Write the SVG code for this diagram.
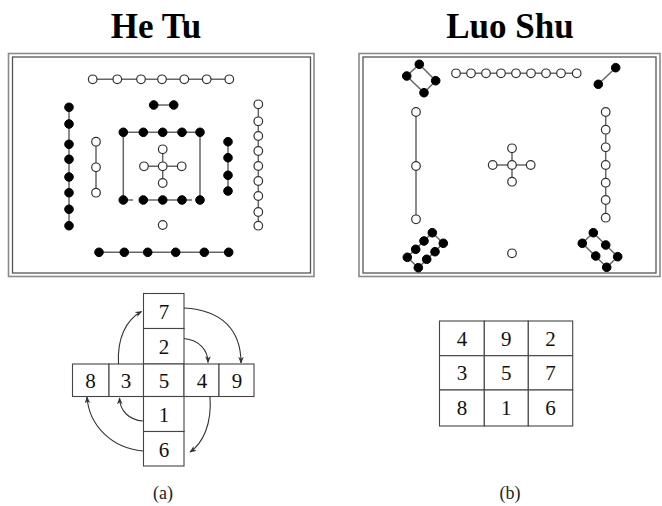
<svg xmlns="http://www.w3.org/2000/svg" width="662" height="506" viewBox="0 0 662 506">
<defs>
<style>
.title{font-family:"Liberation Serif","Times New Roman",serif;font-weight:bold;font-size:35px;text-anchor:middle;fill:#000}
.num{font-family:"Liberation Serif","Times New Roman",serif;font-size:21px;text-anchor:middle;fill:#111}
.cap{font-family:"Liberation Serif","Times New Roman",serif;font-size:18px;text-anchor:middle;fill:#222}
.fo{fill:none;stroke:#8a8a8a;stroke-width:1.6}
.fi{fill:none;stroke:#555;stroke-width:1.3}
.ln{stroke:#666;stroke-width:1.5;fill:none}
.b{fill:#000;stroke:#000;stroke-width:1}
.w{fill:#fff;stroke:#333;stroke-width:1.2}
.cell{fill:#fff;stroke:#444;stroke-width:1.1}
.arr{fill:none;stroke:#333;stroke-width:1.1;marker-end:url(#ah)}
</style>
<marker id="ah" viewBox="0 0 10 10" refX="9" refY="5" markerWidth="7" markerHeight="7" orient="auto" markerUnits="userSpaceOnUse">
<path d="M0,1 L10,5 L0,9 L3,5 Z" fill="#333"/>
</marker>
</defs>
<rect width="662" height="506" fill="#fff"/>
<text class="title" x="156" y="38">He Tu</text>
<text class="title" x="510" y="38">Luo Shu</text>

<g id="hetu-frame">
<rect class="fo" x="8.5" y="53.5" width="305.5" height="223"/>
<rect class="fi" x="12.5" y="57" width="298" height="216"/>
</g>
<g id="luoshu-frame">
<rect class="fo" x="359" y="53.5" width="301" height="223"/>
<rect class="fi" x="363" y="57" width="293" height="216"/>
</g>

<g id="hetu-top-7">
<line class="ln" x1="92.7" y1="79.3" x2="229.3" y2="79.3"/>
<circle class="w" cx="92.7" cy="79.3" r="4.3"/><circle class="w" cx="117.3" cy="79.3" r="4.3"/><circle class="w" cx="141" cy="79.3" r="4.3"/><circle class="w" cx="162" cy="79.3" r="4.3"/><circle class="w" cx="184.3" cy="79.3" r="4.3"/><circle class="w" cx="206.7" cy="79.3" r="4.3"/><circle class="w" cx="229.3" cy="79.3" r="4.3"/>
</g>
<g id="hetu-top-2">
<line class="ln" x1="153.7" y1="105" x2="173.7" y2="105"/>
<circle class="b" cx="153.7" cy="105" r="4.3"/><circle class="b" cx="173.7" cy="105" r="4.3"/>
</g>
<g id="hetu-left-8">
<line class="ln" x1="69" y1="107.3" x2="69" y2="225.7"/>
<circle class="b" cx="69" cy="107.3" r="4.3"/><circle class="b" cx="69" cy="124" r="4.3"/><circle class="b" cx="69" cy="144.3" r="4.3"/><circle class="b" cx="69" cy="159.3" r="4.3"/><circle class="b" cx="69" cy="177" r="4.3"/><circle class="b" cx="69" cy="192.7" r="4.3"/><circle class="b" cx="69" cy="209.3" r="4.3"/><circle class="b" cx="69" cy="225.7" r="4.3"/>
</g>
<g id="hetu-left-3">
<line class="ln" x1="96" y1="141.7" x2="96" y2="192.7"/>
<circle class="w" cx="96" cy="141.7" r="4.3"/><circle class="w" cx="96" cy="167.3" r="4.3"/><circle class="w" cx="96" cy="192.7" r="4.3"/>
</g>
<g id="hetu-center-10">
<line class="ln" x1="123.3" y1="132.3" x2="200" y2="132.3"/>
<line class="ln" x1="123.3" y1="132.3" x2="123.3" y2="200"/>
<line class="ln" x1="200" y1="132.3" x2="200" y2="200"/>
<line class="ln" x1="127" y1="200" x2="133" y2="200"/>
<line class="ln" x1="147" y1="200" x2="178" y2="200"/>
<line class="ln" x1="186" y1="200" x2="192" y2="200"/>
<circle class="b" cx="123.3" cy="132.3" r="4.3"/><circle class="b" cx="143.3" cy="132.3" r="4.3"/><circle class="b" cx="162.7" cy="132.3" r="4.3"/><circle class="b" cx="182" cy="132.3" r="4.3"/><circle class="b" cx="200" cy="132.3" r="4.3"/>
<circle class="b" cx="123.3" cy="200" r="4.3"/><circle class="b" cx="143.3" cy="200" r="4.3"/><circle class="b" cx="162.7" cy="200" r="4.3"/><circle class="b" cx="182" cy="200" r="4.3"/><circle class="b" cx="200" cy="200" r="4.3"/>
</g>
<g id="hetu-center-5">
<line class="ln" x1="144" y1="166.3" x2="181.7" y2="166.3"/>
<line class="ln" x1="162.7" y1="149.3" x2="162.7" y2="183"/>
<circle class="w" cx="162.7" cy="149.3" r="4.3"/><circle class="w" cx="144" cy="166.3" r="4.3"/><circle class="w" cx="162.7" cy="166.3" r="4.3"/><circle class="w" cx="181.7" cy="166.3" r="4.3"/><circle class="w" cx="162.7" cy="183" r="4.3"/>
</g>
<g id="hetu-bottom-1">
<circle class="w" cx="162.7" cy="225" r="4.3"/>
</g>
<g id="hetu-right-4">
<line class="ln" x1="228" y1="141.7" x2="228" y2="191"/>
<circle class="b" cx="228" cy="141.7" r="4.3"/><circle class="b" cx="228" cy="157.7" r="4.3"/><circle class="b" cx="228" cy="175.3" r="4.3"/><circle class="b" cx="228" cy="191" r="4.3"/>
</g>
<g id="hetu-right-9">
<line class="ln" x1="258.3" y1="104.3" x2="258.3" y2="225.7"/>
<circle class="w" cx="258.3" cy="104.3" r="4.3"/><circle class="w" cx="258.3" cy="121.3" r="4.3"/><circle class="w" cx="258.3" cy="136" r="4.3"/><circle class="w" cx="258.3" cy="151" r="4.3"/><circle class="w" cx="258.3" cy="166" r="4.3"/><circle class="w" cx="258.3" cy="181" r="4.3"/><circle class="w" cx="258.3" cy="196" r="4.3"/><circle class="w" cx="258.3" cy="212" r="4.3"/><circle class="w" cx="258.3" cy="225.7" r="4.3"/>
</g>
<g id="hetu-bottom-6">
<line class="ln" x1="99" y1="252.3" x2="228.7" y2="252.3"/>
<circle class="b" cx="99" cy="252.3" r="4.3"/><circle class="b" cx="124.3" cy="252.3" r="4.3"/><circle class="b" cx="147.7" cy="252.3" r="4.3"/><circle class="b" cx="175.7" cy="252.3" r="4.3"/><circle class="b" cx="204.3" cy="252.3" r="4.3"/><circle class="b" cx="228.7" cy="252.3" r="4.3"/>
</g>

<g id="luoshu-4">
<polygon class="ln" points="419.3,64.3 435.7,80.7 424,92.7 406.7,76"/>
<circle class="b" cx="419.3" cy="64.3" r="4.3"/><circle class="b" cx="435.7" cy="80.7" r="4.3"/><circle class="b" cx="424" cy="92.7" r="4.3"/><circle class="b" cx="406.7" cy="76" r="4.3"/>
</g>
<g id="luoshu-9">
<line class="ln" x1="456" y1="73.3" x2="576.7" y2="73.3"/>
<circle class="w" cx="456" cy="73.3" r="4.3"/><circle class="w" cx="471" cy="73.3" r="4.3"/><circle class="w" cx="486" cy="73.3" r="4.3"/><circle class="w" cx="501" cy="73.3" r="4.3"/><circle class="w" cx="516" cy="73.3" r="4.3"/><circle class="w" cx="531" cy="73.3" r="4.3"/><circle class="w" cx="546" cy="73.3" r="4.3"/><circle class="w" cx="561" cy="73.3" r="4.3"/><circle class="w" cx="576.7" cy="73.3" r="4.3"/>
</g>
<g id="luoshu-2">
<line class="ln" x1="615.7" y1="67.7" x2="598.3" y2="84.3"/>
<circle class="b" cx="615.7" cy="67.7" r="4.3"/><circle class="b" cx="598.3" cy="84.3" r="4.3"/>
</g>
<g id="luoshu-3">
<line class="ln" x1="416" y1="112" x2="416" y2="219.3"/>
<circle class="w" cx="416" cy="112" r="4.3"/><circle class="w" cx="416" cy="166" r="4.3"/><circle class="w" cx="416" cy="219.3" r="4.3"/>
</g>
<g id="luoshu-5">
<line class="ln" x1="492.7" y1="165" x2="530.7" y2="165"/>
<line class="ln" x1="512" y1="148.3" x2="512" y2="181.7"/>
<circle class="w" cx="512" cy="148.3" r="4.3"/><circle class="w" cx="492.7" cy="165" r="4.3"/><circle class="w" cx="512" cy="165" r="4.3"/><circle class="w" cx="530.7" cy="165" r="4.3"/><circle class="w" cx="512" cy="181.7" r="4.3"/>
</g>
<g id="luoshu-7">
<line class="ln" x1="605.7" y1="112" x2="605.7" y2="217.7"/>
<circle class="w" cx="605.7" cy="112" r="4.3"/><circle class="w" cx="605.7" cy="129.7" r="4.3"/><circle class="w" cx="605.7" cy="147.3" r="4.3"/><circle class="w" cx="605.7" cy="165" r="4.3"/><circle class="w" cx="605.7" cy="182.7" r="4.3"/><circle class="w" cx="605.7" cy="200" r="4.3"/><circle class="w" cx="605.7" cy="217.7" r="4.3"/>
</g>
<g id="luoshu-8">
<polygon class="ln" points="432.3,232.7 407.3,257.3 418.3,267.7 443.3,243.3"/>
<circle class="b" cx="432.3" cy="232.7" r="4.3"/><circle class="b" cx="424" cy="241" r="4.3"/><circle class="b" cx="415.7" cy="249.3" r="4.3"/><circle class="b" cx="407.3" cy="257.3" r="4.3"/>
<circle class="b" cx="443.3" cy="243.3" r="4.3"/><circle class="b" cx="435" cy="251.7" r="4.3"/><circle class="b" cx="426.7" cy="259.3" r="4.3"/><circle class="b" cx="418.3" cy="267.7" r="4.3"/>
</g>
<g id="luoshu-1">
<circle class="w" cx="512" cy="253.3" r="4.3"/>
</g>
<g id="luoshu-6">
<polygon class="ln" points="593.3,232.7 617.7,256.7 606.7,267.3 582.3,243.3"/>
<circle class="b" cx="593.3" cy="232.7" r="4.3"/><circle class="b" cx="605.7" cy="245" r="4.3"/><circle class="b" cx="617.7" cy="256.7" r="4.3"/>
<circle class="b" cx="582.3" cy="243.3" r="4.3"/><circle class="b" cx="595.7" cy="256" r="4.3"/><circle class="b" cx="606.7" cy="267.3" r="4.3"/>
</g>

<g id="cross-cells">
<g id="cell-7"><rect class="cell" x="143.5" y="293.5" width="40.5" height="35"/><text class="num" x="164" y="318.5">7</text></g>
<g id="cell-2"><rect class="cell" x="143.5" y="328.5" width="40.5" height="35.5"/><text class="num" x="164" y="353.5">2</text></g>
<g id="cell-8"><rect class="cell" x="72.5" y="364" width="36.5" height="32.5"/><text class="num" x="90.5" y="388">8</text></g>
<g id="cell-3"><rect class="cell" x="109" y="364" width="34.5" height="32.5"/><text class="num" x="126" y="388">3</text></g>
<g id="cell-5"><rect class="cell" x="143.5" y="364" width="40.5" height="32.5"/><text class="num" x="164" y="388">5</text></g>
<g id="cell-4"><rect class="cell" x="184" y="364" width="35" height="32.5"/><text class="num" x="202" y="388">4</text></g>
<g id="cell-9"><rect class="cell" x="219" y="364" width="35" height="32.5"/><text class="num" x="237" y="388">9</text></g>
<g id="cell-1"><rect class="cell" x="143.5" y="396.5" width="40.5" height="35"/><text class="num" x="164" y="421.5">1</text></g>
<g id="cell-6"><rect class="cell" x="143.5" y="431.5" width="40.5" height="34.5"/><text class="num" x="164" y="456.5">6</text></g>
</g>

<g id="connectors">
<path class="arr" d="M118.5,364 C117,338 126,320 141.5,311.5"/>
<path class="arr" d="M184,308 C222,310 241,330 241,363"/>
<path class="arr" d="M184,338.5 C199,340 208,350 208,362.5"/>
<path class="arr" d="M210,396.5 C212,424 203,443 190,452"/>
<path class="arr" d="M143,421 C129,420 120,411 119.5,398"/>
<path class="arr" d="M143,451 C111,448 89,425 87,397"/>
</g>

<g id="luoshu-grid">
<g id="sq-4"><rect class="cell" x="439.5" y="321" width="44.8" height="34.7"/><text class="num" x="462" y="345.5">4</text></g>
<g id="sq-9"><rect class="cell" x="484.3" y="321" width="44" height="34.7"/><text class="num" x="506.3" y="345.5">9</text></g>
<g id="sq-2"><rect class="cell" x="528.3" y="321" width="44.4" height="34.7"/><text class="num" x="550.5" y="345.5">2</text></g>
<g id="sq-3"><rect class="cell" x="439.5" y="355.7" width="44.8" height="34.3"/><text class="num" x="462" y="380">3</text></g>
<g id="sq-5"><rect class="cell" x="484.3" y="355.7" width="44" height="34.3"/><text class="num" x="506.3" y="380">5</text></g>
<g id="sq-7"><rect class="cell" x="528.3" y="355.7" width="44.4" height="34.3"/><text class="num" x="550.5" y="380">7</text></g>
<g id="sq-8"><rect class="cell" x="439.5" y="390" width="44.8" height="36"/><text class="num" x="462" y="415">8</text></g>
<g id="sq-1"><rect class="cell" x="484.3" y="390" width="44" height="36"/><text class="num" x="506.3" y="415">1</text></g>
<g id="sq-6"><rect class="cell" x="528.3" y="390" width="44.4" height="36"/><text class="num" x="550.5" y="415">6</text></g>
</g>

<text class="cap" x="163" y="499">(a)</text>
<text class="cap" x="510" y="499">(b)</text>
</svg>
